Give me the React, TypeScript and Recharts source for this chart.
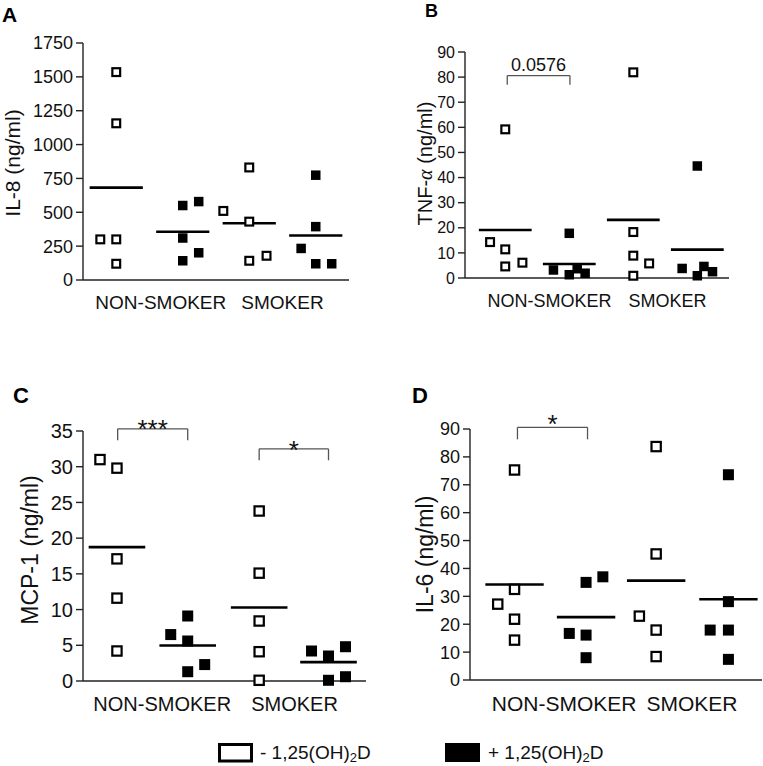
import React from "react";
import { ScatterChart, Scatter, XAxis, YAxis, ReferenceLine } from "recharts";

const FONT = "'Liberation Sans', Arial, sans-serif";

const groupNames = ["NON-SMOKER", "SMOKER"];

// each panel: [NON-SMOKER -1,25(OH)2D, NON-SMOKER +1,25(OH)2D, SMOKER -1,25(OH)2D, SMOKER +1,25(OH)2D]
const il8 = [
  [1535, 1157, 300, 300, 120],
  [550, 579, 310, 142, 201],
  [831, 510, 431, 142, 179],
  [774, 394, 233, 120, 120],
];
const tnf = [
  [59.2, 14.3, 11.4, 4.6, 6.1],
  [17.8, 3.2, 1.3, 3.7, 1.9],
  [81.9, 18.3, 8.9, 5.8, 0.9],
  [44.6, 3.8, 0.9, 4.6, 2.5],
];
const mcp1 = [
  [31.0, 29.8, 17.1, 11.6, 4.2],
  [9.1, 6.5, 5.6, 2.3, 1.3],
  [23.8, 15.1, 8.4, 4.1, 0.1],
  [4.2, 3.5, 4.8, 0.1, 0.6],
];
const il6 = [
  [75.3, 32.5, 27.2, 21.8, 14.3],
  [37.0, 35.0, 16.7, 16.1, 8.0],
  [83.7, 45.2, 22.9, 17.9, 8.4],
  [73.6, 28.1, 17.9, 17.9, 7.4],
];

const il8Ticks = [0, 250, 500, 750, 1000, 1250, 1500, 1750];
const tnfTicks = [0, 10, 20, 30, 40, 50, 60, 70, 80, 90];
const mcp1Ticks = [0, 5, 10, 15, 20, 25, 30, 35];
const il6Ticks = [0, 10, 20, 30, 40, 50, 60, 70, 80, 90];

// significance brackets (data units)
const tnfBrackets = [{ x1: 0.64, x2: 1.59, y: 80.6, yEnd: 77, text: "0.0576", dy: -5, size: 18 }];
const mcp1Brackets = [
  { x1: 0.49, x2: 1.48, y: 35.3, yEnd: 33.7, text: "***", dy: 9, size: 26 },
  { x1: 2.49, x2: 3.47, y: 32.5, yEnd: 30.9, text: "*", dy: 10, size: 26 },
];
const il6Brackets = [{ x1: 0.65, x2: 1.61, y: 90.6, yEnd: 86.3, text: "*", dy: 6, size: 26 }];

// point scatter inside a column (x units)
const il8Jitter = [[0, 0, -0.24, 0, 0], [0, 0.24, 0, 0, 0.24], [0, -0.39, 0, 0, 0.26], [0, 0, -0.22, 0, 0.24]];
const tnfJitter = [[0, -0.23, 0, 0, 0.26], [0, -0.24, 0, 0.12, 0.24], [0, 0, 0, 0.24, 0], [0, -0.23, 0, 0.1, 0.23]];
const mcp1Jitter = [[-0.24, 0, 0, 0, 0], [0, -0.24, 0, 0.24, 0], [0, 0, 0, 0, 0], [-0.24, 0, 0.24, 0, 0.24]];
const il6Jitter = [[0, 0, -0.23, 0, 0], [0.23, 0, -0.23, 0, 0], [0, 0, -0.23, 0, 0], [0, 0, -0.25, 0, 0]];

const panels = [
  {
    title: "IL-8 (ng/ml)", values: il8, ticks: il8Ticks, jitter: il8Jitter, brackets: [],
    centers: [0.5, 1.5, 2.5, 3.5], labelAt: [1.17, 3.0],
    box: { left: 0, top: 0, width: 380, height: 330 }, plot: { left: 83, top: 43, right: 349, bottom: 280 },
    tickFont: 18, labelFont: 19, titleFont: 21, titleX: 12, titleDy: 1.5, mark: 10,
  },
  {
    title: "TNF-α (ng/ml)", values: tnf, ticks: tnfTicks, jitter: tnfJitter, brackets: tnfBrackets,
    centers: [0.61, 1.58, 2.55, 3.52], labelAt: [1.28, 3.07],
    box: { left: 380, top: 0, width: 383, height: 330 }, plot: { left: 465, top: 52, right: 729, bottom: 278 },
    tickFont: 16, labelFont: 18, titleFont: 20, titleX: 45, titleDy: -1.5, mark: 10,
  },
  {
    title: "MCP-1 (ng/ml)", values: mcp1, ticks: mcp1Ticks, jitter: mcp1Jitter, brackets: mcp1Brackets,
    centers: [0.48, 1.48, 2.49, 3.47], labelAt: [1.12, 2.99],
    box: { left: 0, top: 380, width: 380, height: 345 }, plot: { left: 83, top: 431, right: 366, bottom: 681 },
    tickFont: 20, labelFont: 20, titleFont: 23, titleX: 30, titleDy: -6, mark: 11.5,
  },
  {
    title: "IL-6 (ng/ml)", values: il6, ticks: il6Ticks, jitter: il6Jitter, brackets: il6Brackets,
    centers: [0.61, 1.59, 2.55, 3.54], labelAt: [1.29, 3.04],
    box: { left: 380, top: 380, width: 383, height: 345 }, plot: { left: 470, top: 429, right: 762, bottom: 680 },
    tickFont: 18, labelFont: 21, titleFont: 23, titleX: 45, titleDy: 0, mark: 11.5,
  },
];

const letters = [
  { t: "A", x: 2, y: 22, size: 21 },
  { t: "B", x: 425, y: 17, size: 18 },
  { t: "C", x: 13, y: 403, size: 22 },
  { t: "D", x: 412, y: 403, size: 22 },
];

const AXIS = "#222";

const makeSquare = (size: number, open: boolean) => (props: any) => {
  const { cx, cy } = props;
  if (cx == null || cy == null) return <g />;
  if (open) {
    const s = size - 2.2;
    return <rect x={cx - s / 2} y={cy - s / 2} width={s} height={s} fill="#fff" stroke="#000" strokeWidth={2.2} />;
  }
  return <rect x={cx - size / 2} y={cy - size / 2} width={size} height={size} fill="#000" />;
};

const bracketLabel = (text: string, dy: number, size: number) => (props: any) => {
  const vb = props.viewBox || {};
  const cx = vb.x1 !== undefined ? (vb.x1 + vb.x2) / 2 : vb.x + (vb.width || 0) / 2;
  const cy = vb.y1 !== undefined ? vb.y1 : vb.y;
  return (
    <text x={cx} y={cy + dy} textAnchor="middle" fontFamily={FONT} fontSize={size} fill="#111">
      {text}
    </text>
  );
};

function Panel({ p }: { p: any }) {
  const open: any[] = [];
  const filled: any[] = [];
  p.values.forEach((vals: number[], g: number) =>
    vals.forEach((v, i) => {
      const pt = { x: p.centers[g] + p.jitter[g][i], y: v };
      (g % 2 === 0 ? open : filled).push(pt);
    })
  );
  const means = p.values.map((vals: number[]) => vals.reduce((s, v) => s + v, 0) / vals.length);
  const yMax = p.ticks[p.ticks.length - 1];
  const xAxisHeight = 40;
  const margin = {
    top: p.plot.top - p.box.top,
    left: 0,
    right: p.box.left + p.box.width - p.plot.right,
    bottom: p.box.top + p.box.height - p.plot.bottom - xAxisHeight,
  };
  const titleY = (p.plot.top + p.plot.bottom) / 2 - p.box.top + p.titleDy;
  const renderTitle = () => {
    const parts = p.title.split("α");
    return (
      <text
        x={p.titleX}
        y={titleY}
        transform={`rotate(-90, ${p.titleX}, ${titleY})`}
        textAnchor="middle"
        dominantBaseline="central"
        fontFamily={FONT}
        fontSize={p.titleFont}
        fill="#111"
      >
        {parts.length > 1 ? (
          <>
            {parts[0]}
            <tspan fontFamily="'Liberation Serif', serif" fontStyle="italic">α</tspan>
            {parts[1]}
          </>
        ) : (
          p.title
        )}
      </text>
    );
  };

  return (
    <div style={{ position: "absolute", left: p.box.left, top: p.box.top }}>
      <ScatterChart width={p.box.width} height={p.box.height} margin={margin}>
        <XAxis
          type="number"
          dataKey="x"
          domain={[0, 4]}
          ticks={p.labelAt}
          interval={0}
          tickFormatter={(v: number) => groupNames[p.labelAt.indexOf(v)]}
          tickLine={false}
          tickMargin={10}
          height={xAxisHeight}
          axisLine={{ stroke: AXIS, strokeWidth: 1.4 }}
          tick={{ fontSize: p.labelFont, fill: "#111", fontFamily: FONT }}
        />
        <YAxis
          type="number"
          dataKey="y"
          domain={[0, yMax]}
          ticks={p.ticks}
          interval={0}
          width={p.plot.left - p.box.left}
          tickSize={7}
          tickMargin={3}
          axisLine={{ stroke: AXIS, strokeWidth: 1.4 }}
          tickLine={{ stroke: AXIS, strokeWidth: 1.4 }}
          tick={{ fontSize: p.tickFont, fill: "#111", fontFamily: FONT }}
          label={renderTitle}
        />
        {means.map((m: number, g: number) => (
          <ReferenceLine
            key={`mean${g}`}
            segment={[{ x: p.centers[g] - 0.4, y: m }, { x: p.centers[g] + 0.4, y: m }]}
            stroke="#000"
            strokeWidth={2.6}
            ifOverflow="visible"
          />
        ))}
        {p.brackets.map((b: any, i: number) => [
          <ReferenceLine
            key={`bh${i}`}
            segment={[{ x: b.x1, y: b.y }, { x: b.x2, y: b.y }]}
            stroke="#555"
            strokeWidth={1.3}
            ifOverflow="visible"
            label={bracketLabel(b.text, b.dy, b.size)}
          />,
          <ReferenceLine
            key={`bl${i}`}
            segment={[{ x: b.x1, y: b.y }, { x: b.x1, y: b.yEnd }]}
            stroke="#555"
            strokeWidth={1.3}
            ifOverflow="visible"
          />,
          <ReferenceLine
            key={`br${i}`}
            segment={[{ x: b.x2, y: b.y }, { x: b.x2, y: b.yEnd }]}
            stroke="#555"
            strokeWidth={1.3}
            ifOverflow="visible"
          />,
        ])}
        <Scatter data={open} shape={makeSquare(p.mark, true)} isAnimationActive={false} />
        <Scatter data={filled} shape={makeSquare(p.mark - 0.5, false)} isAnimationActive={false} />
      </ScatterChart>
    </div>
  );
}

export default function App() {
  return (
    <div style={{ position: "absolute", left: 0, top: 0, width: 763, height: 766, background: "#fff" }}>
      {panels.map((p, i) => (
        <Panel key={i} p={p} />
      ))}
      <svg width={763} height={766} style={{ position: "absolute", left: 0, top: 0, pointerEvents: "none" }}>
        {letters.map((l) => (
          <text key={l.t} x={l.x} y={l.y} fontFamily={FONT} fontWeight="bold" fontSize={l.size} fill="#000">
            {l.t}
          </text>
        ))}
        <rect x={219.5} y={744.5} width={32} height={16.5} fill="#fff" stroke="#000" strokeWidth={3} />
        <text x={260} y={759} fontFamily={FONT} fontSize={19} fill="#111">
          - 1,25(OH)<tspan fontSize={13} dy={3}>2</tspan>
          <tspan dy={-3}>D</tspan>
        </text>
        <rect x={445} y={743} width={35} height={19} fill="#000" />
        <text x={488} y={759} fontFamily={FONT} fontSize={19} fill="#111">
          + 1,25(OH)<tspan fontSize={13} dy={3}>2</tspan>
          <tspan dy={-3}>D</tspan>
        </text>
      </svg>
    </div>
  );
}
